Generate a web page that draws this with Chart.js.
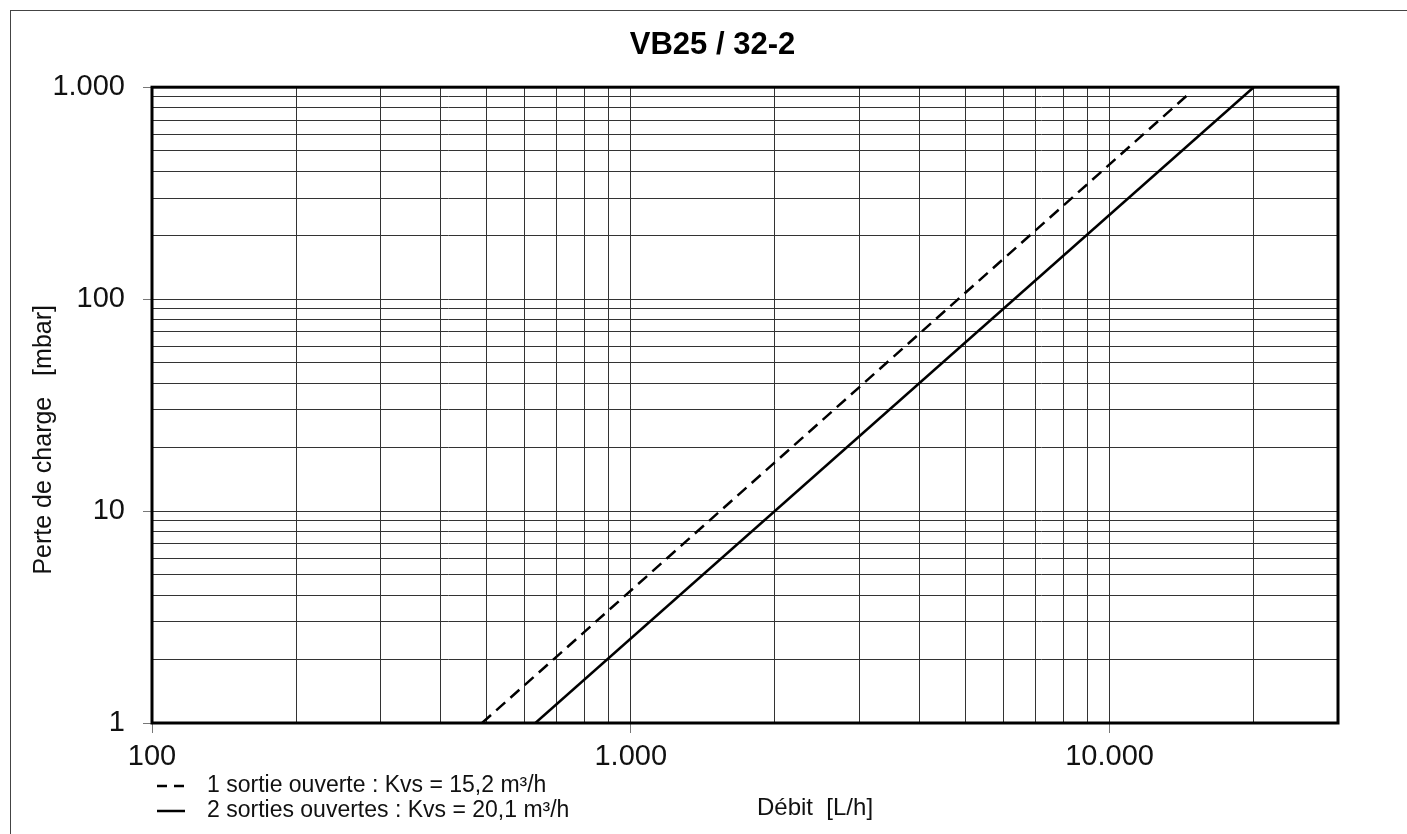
<!DOCTYPE html>
<html lang="fr">
<head>
<meta charset="utf-8">
<title>VB25 / 32-2</title>
<script src="https://cdn.jsdelivr.net/npm/chart.js@4.4.1/dist/chart.umd.min.js"></script>
<style>
	html, body { margin: 0; padding: 0; background: #fff; overflow: hidden; }
	#cadre { position: absolute; left: 10px; top: 10px; width: 1600px; height: 1000px;
		border-left: 1px solid #444; border-top: 1px solid #444; }
	#zone { position: absolute; left: 0; top: 0; width: 1407px; height: 834px; }
	#legende { position: absolute; left: 157px; top: 772px;
		font-family: 'Liberation Sans', Arial, sans-serif; font-size: 23px; color: #111; }
	#legende .item { display: flex; align-items: center; height: 25px; white-space: pre; }
	#legende svg { margin-right: 22px; }
</style>
</head>
<body>
<div id="cadre"></div>
<div id="zone"><canvas id="graficoPerteDeCharge" width="1407" height="834"></canvas></div>
<div id="legende"></div>

<script>
var seriesLabels = ['1 sortie ouverte : Kvs = 15,2 m³/h', '2 sorties ouvertes : Kvs = 20,1 m³/h'];
var uneSortieDebit = [489, 14600];
var uneSortiePerte = [1, 925];
var deuxSortiesDebit = [632, 20000];
var deuxSortiesPerte = [1, 1000];

var xTicks = [100, 200, 300, 400, 500, 600, 700, 800, 900,
	1000, 2000, 3000, 4000, 5000, 6000, 7000, 8000, 9000,
	10000, 20000, 30000];
var xTicksMajeurs = [100, 1000, 10000];
var yTicks = [1, 2, 3, 4, 5, 6, 7, 8, 9,
	10, 20, 30, 40, 50, 60, 70, 80, 90,
	100, 200, 300, 400, 500, 600, 700, 800, 900,
	1000];
var yTicksMajeurs = [1, 10, 100, 1000];

function formatMilliers(v) {
	return String(v).replace(/\B(?=(\d{3})+(?!\d))/g, '.');
}

function points(xs, ys) {
	return xs.map(function(x, i) { return { x: x, y: ys[i] }; });
}

var cadrePlugin = {
	id: 'cadreGraphique',
	afterDatasetsDraw: function(chart) {
		var a = chart.chartArea;
		var ctx = chart.ctx;
		ctx.save();
		ctx.strokeStyle = '#000';
		ctx.lineWidth = 3;
		ctx.strokeRect(a.left, a.top, a.right - a.left, a.bottom - a.top);
		ctx.restore();
	}
};

Chart.defaults.font.family = "'Liberation Sans', Arial, sans-serif";
Chart.defaults.color = '#111';

var ctx = document.getElementById('graficoPerteDeCharge').getContext('2d');
var grafico = new Chart(ctx, {
	type: 'scatter',
	data: {
		datasets: [{
			label: seriesLabels[0],
			data: points(uneSortieDebit, uneSortiePerte),
			showLine: true,
			borderColor: '#000',
			borderWidth: 2.5,
			borderDash: [12, 7],
			pointRadius: 0,
			pointHoverRadius: 0
		}, {
			label: seriesLabels[1],
			data: points(deuxSortiesDebit, deuxSortiesPerte),
			showLine: true,
			borderColor: '#000',
			borderWidth: 2.5,
			borderDash: [],
			pointRadius: 0,
			pointHoverRadius: 0
		}]
	},
	options: {
		responsive: false,
		animation: false,
		layout: { padding: { left: 18, top: 10, right: 0, bottom: 0 } },
		plugins: {
			legend: { display: false },
			tooltip: { enabled: false },
			title: {
				display: true,
				text: 'VB25 / 32-2',
				color: '#000',
				font: { size: 31, weight: 'bold' },
				padding: { top: 17, bottom: 23 }
			}
		},
		scales: {
			x: {
				type: 'logarithmic',
				min: 100,
				max: 30000,
				afterBuildTicks: function(scale) {
					scale.ticks = xTicks.map(function(v) { return { value: v }; });
				},
				afterFit: function(scale) { scale.height = 111; },
				border: { display: false },
				grid: {
					color: '#333',
					lineWidth: 1,
					tickLength: 10,
					tickColor: function(c) {
						return xTicksMajeurs.indexOf(c.tick.value) >= 0 ? '#777' : 'rgba(0,0,0,0)';
					}
				},
				ticks: {
					autoSkip: false,
					maxRotation: 0,
					padding: 7,
					font: { size: 29 },
					callback: function(value) {
						return xTicksMajeurs.indexOf(value) >= 0 ? formatMilliers(value) : '';
					}
				},
				title: {
					display: true,
					text: ' '.repeat(21) + 'Débit  [L/h]',
					font: { size: 24 },
					padding: { top: 0, bottom: 11 }
				}
			},
			y: {
				type: 'logarithmic',
				min: 1,
				max: 1000,
				afterBuildTicks: function(scale) {
					scale.ticks = yTicks.map(function(v) { return { value: v }; });
				},
				afterFit: function(scale) { scale.width = 134; },
				border: { display: false },
				grid: {
					color: '#333',
					lineWidth: 1,
					tickLength: 9,
					tickColor: function(c) {
						return yTicksMajeurs.indexOf(c.tick.value) >= 0 ? '#777' : 'rgba(0,0,0,0)';
					}
				},
				ticks: {
					autoSkip: false,
					padding: 18,
					font: { size: 29 },
					callback: function(value) {
						return yTicksMajeurs.indexOf(value) >= 0 ? formatMilliers(value) : '';
					}
				},
				title: {
					display: true,
					text: 'Perte de charge   [mbar]' + ' '.repeat(10),
					font: { size: 25 },
					padding: { top: 11, bottom: 0 }
				}
			},
			marge: {
				position: 'right',
				display: true,
				afterFit: function(scale) { scale.width = 69; },
				border: { display: false },
				grid: { display: false },
				ticks: { display: false }
			}
		}
	},
	plugins: [cadrePlugin]
});

// Légende HTML construite à partir des jeux de données
var legende = document.getElementById('legende');
grafico.data.datasets.forEach(function(ds) {
	var dash = ds.borderDash && ds.borderDash.length ? ' stroke-dasharray="10 7"' : '';
	var item = document.createElement('div');
	item.className = 'item';
	item.innerHTML = '<svg width="28" height="25"><line x1="0" y1="14" x2="28" y2="14" stroke="#000" stroke-width="2.5"' + dash + '/></svg>';
	var texte = document.createElement('span');
	texte.textContent = ds.label;
	item.appendChild(texte);
	legende.appendChild(item);
});
</script>
</body>
</html>
